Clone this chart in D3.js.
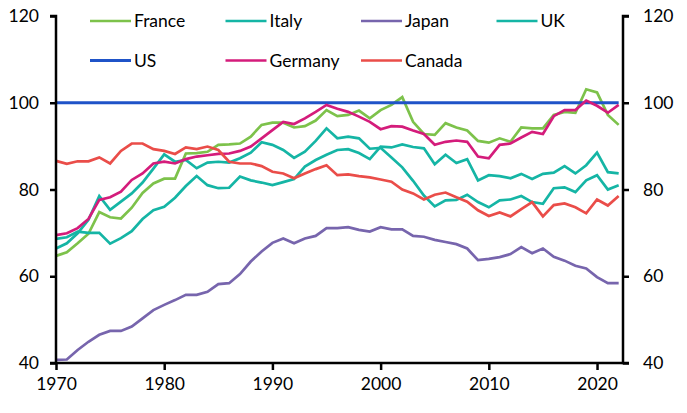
<!DOCTYPE html>
<html>
<head>
<meta charset="utf-8">
<script src="https://cdn.jsdelivr.net/npm/d3@7"></script>
<style>
  html, body { margin: 0; padding: 0; background: #fff; }
  svg { display: block; font-family: Lato, "Open Sans", sans-serif; }
</style>
</head>
<body>
<svg id="chart" width="687" height="413"></svg>
<script>
// ---- Data (index, US = 100) ----
const years = d3.range(1970, 2023);

const france = [64.7,65.5,67.6,69.8,74.8,73.6,73.3,75.8,79.2,81.4,82.5,82.5,88.3,88.4,88.7,90.3,90.4,90.6,92.2,94.9,95.4,95.4,94.3,94.6,95.9,98.3,96.9,97.2,98.2,96.4,98.3,99.5,101.3,95.6,92.8,92.6,95.3,94.3,93.6,91.2,90.8,91.8,91.0,94.3,94.1,94.1,97.2,97.9,97.7,103.1,102.4,97.2,94.9];

const italy = [66.4,67.6,69.9,73.0,78.5,75.3,77.2,79.1,81.6,84.8,88.1,86.4,86.8,84.9,86.2,86.4,86.2,87.2,88.5,90.9,90.3,89.1,87.3,88.7,91.2,94.1,91.8,92.2,91.8,89.4,89.6,87.4,85.1,82.0,78.6,76.1,77.5,77.6,78.8,77.1,75.9,77.5,77.7,78.5,77.1,76.7,80.3,80.5,79.4,82.1,83.3,80.0,81.0];

const japan = [40.7,40.8,43.0,44.9,46.5,47.4,47.4,48.4,50.3,52.2,53.4,54.5,55.7,55.7,56.4,58.2,58.4,60.5,63.4,65.7,67.7,68.7,67.6,68.7,69.3,71.1,71.1,71.3,70.7,70.3,71.3,70.8,70.8,69.3,69.1,68.4,67.9,67.4,66.4,63.7,64.0,64.4,65.1,66.7,65.3,66.4,64.5,63.6,62.4,61.8,59.8,58.4,58.4];

const uk = [68.6,69.0,70.3,70.0,70.0,67.5,68.8,70.4,73.2,75.2,76.0,78.1,80.8,83.1,81.0,80.3,80.4,83.0,82.1,81.6,81.0,81.7,82.4,85.3,86.8,88.0,89.1,89.3,88.4,87.0,89.9,89.7,90.4,89.8,89.5,85.8,88.0,86.1,87.0,82.1,83.3,83.1,82.6,83.6,82.4,83.6,83.9,85.4,83.7,85.6,88.5,84.0,83.7];

const us = years.map(() => 100);

const germany = [69.5,69.9,71.1,73.2,77.6,78.2,79.5,82.2,83.7,86.0,86.4,86.0,87.0,87.6,87.9,88.2,88.3,88.9,89.9,91.8,93.7,95.6,95.1,96.4,97.9,99.5,98.6,97.9,96.8,95.6,93.9,94.6,94.5,93.6,92.8,90.3,91.0,91.3,91.0,87.6,87.2,90.3,90.6,92.0,93.3,92.8,96.9,98.3,98.3,100.5,99.3,97.7,99.5];

const canada = [86.6,85.9,86.5,86.5,87.4,86.0,88.9,90.6,90.6,89.3,88.9,88.2,89.7,89.3,89.9,89.1,86.4,86.0,86.0,85.4,84.1,83.7,82.6,83.7,84.7,85.6,83.3,83.5,83.1,82.8,82.3,81.8,80.0,79.1,77.7,78.8,79.3,78.2,77.2,75.2,73.9,74.7,73.8,75.5,77.1,73.8,76.4,76.8,75.9,74.5,77.7,76.3,78.5];

const seriesNames = ["France","Italy","Japan","UK","US","Germany","Canada"];
const seriesValues = [france, italy, japan, uk, us, germany, canada];
const seriesColors = ["#7dc24b","#15b5a5","#7765ad","#15b5a5","#1f53c8","#d41c7b","#ea4d49"];

const yTicks = [40, 60, 80, 100, 120];
const xTicks = [1970, 1980, 1990, 2000, 2010, 2020];

// ---- Layout ----
const svg = d3.select("#chart");
const L = 56, R = 623, T = 16, B = 363;

const x = d3.scaleLinear().domain([1970, 2022.4]).range([L, R]);
const y = d3.scaleLinear().domain([40, 120]).range([B, T]);

// Lines
const line = d3.line().x((d, i) => x(years[i])).y(d => y(d));
seriesValues.forEach((vals, k) => {
  svg.append("path")
    .datum(vals)
    .attr("fill", "none")
    .attr("stroke", seriesColors[k])
    .attr("stroke-width", seriesNames[k] === "US" ? 3 : 2.7)
    .attr("stroke-linejoin", "miter")
    .attr("d", line);
});

// Axes
const fontSize = 17.5;
const fontFam = 'Lato, "Open Sans", sans-serif';
const leftAxis = d3.axisLeft(y).tickValues(yTicks).tickSize(6).tickPadding(11);
const rightAxis = d3.axisRight(y).tickValues(yTicks).tickSize(6).tickPadding(14);
const bottomAxis = d3.axisBottom(x).tickValues(xTicks).tickFormat(d3.format("d")).tickSize(7).tickPadding(8);

function styleAxis(g) {
  g.select(".domain").attr("stroke", "#000").attr("stroke-width", 2.5);
  g.selectAll(".tick line").attr("stroke", "#000").attr("stroke-width", 2.5);
  g.selectAll(".tick text").attr("fill", "#000").style("font-size", fontSize + "px")
    .style("font-family", fontFam);
}

svg.append("g").attr("transform", `translate(${L},0)`).call(leftAxis).call(styleAxis)
  .call(g => g.select(".domain").attr("d", `M-6,${T}H0V${B}H-6`));
svg.append("g").attr("transform", `translate(${R},0)`).call(rightAxis).call(styleAxis)
  .call(g => g.select(".domain").attr("d", `M6,${T}H0V${B}H6`));
svg.append("g").attr("transform", `translate(0,${B})`).call(bottomAxis).call(styleAxis)
  .call(g => g.select(".domain").attr("d", `M${L},0H${R}`));

// Legend
const legendCols = [90, 225.5, 361, 496.5];
const legendRows = [21, 60.5];
const legendOrder = [["France","Italy","Japan","UK"],["US","Germany","Canada"]];
legendOrder.forEach((row, r) => {
  row.forEach((name, c) => {
    const k = seriesNames.indexOf(name);
    const g = svg.append("g").attr("transform", `translate(${legendCols[c]},${legendRows[r]})`);
    g.append("line").attr("x1", 0).attr("x2", 41).attr("y1", 0).attr("y2", 0)
      .attr("stroke", seriesColors[k]).attr("stroke-width", name === "US" ? 3 : 2.7);
    g.append("text").attr("x", 44).attr("y", 0).attr("dy", "0.35em")
      .style("font-size", fontSize + "px").style("font-family", fontFam)
      .attr("fill", "#000").text(name);
  });
});
</script>
</body>
</html>
